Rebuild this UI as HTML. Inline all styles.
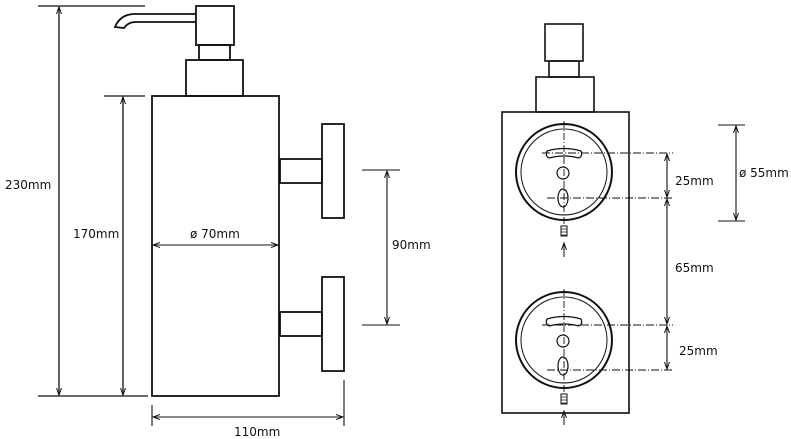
<!DOCTYPE html>
<html><head><meta charset="utf-8"><style>
html,body{margin:0;padding:0;background:#fff;width:791px;height:439px;overflow:hidden}
svg{display:block}
text{font-family:"DejaVu Sans","Liberation Sans",sans-serif;font-size:12px;fill:#111}
</style></head><body>
<svg width="791" height="439" viewBox="0 0 791 439" xmlns="http://www.w3.org/2000/svg">
<defs>
<marker id="a" markerWidth="8" markerHeight="8" refX="7" refY="4" orient="auto-start-reverse" markerUnits="userSpaceOnUse">
<path d="M0,1.5 L7,4 L0,6.5" fill="none" stroke="#111" stroke-width="1"/></marker>
</defs>
<g stroke="#111" fill="none">
<!-- left view -->
<g stroke-width="1.3">
<line x1="38" y1="6" x2="145" y2="6"/>
<line x1="38" y1="396" x2="148" y2="396"/>
<line x1="104" y1="96" x2="145" y2="96"/>
<line x1="59" y1="7" x2="59" y2="395" marker-start="url(#a)" marker-end="url(#a)"/>
<line x1="123" y1="97" x2="123" y2="395" marker-start="url(#a)" marker-end="url(#a)"/>
</g>
<g stroke-width="1.8">
<rect x="152" y="96" width="127" height="300"/>
<rect x="196" y="6" width="38" height="39"/>
<rect x="199" y="45" width="31" height="15"/>
<rect x="186" y="60" width="57" height="36"/>
<path d="M196,14 L133,14 Q120,15 115,27 L124,28 Q128,22 136,22 L196,22"/>
<rect x="280" y="159" width="42" height="24"/>
<rect x="322" y="124" width="22" height="94"/>
<rect x="280" y="312" width="42" height="24"/>
<rect x="322" y="277" width="22" height="94"/>
</g>
<g stroke-width="1.1">
<line x1="153" y1="245" x2="278" y2="245" marker-start="url(#a)" marker-end="url(#a)"/>
<line x1="362" y1="170" x2="400" y2="170"/>
<line x1="362" y1="325" x2="400" y2="325"/>
<line x1="387" y1="171" x2="387" y2="324" marker-start="url(#a)" marker-end="url(#a)"/>
<line x1="152" y1="405" x2="152" y2="426"/>
<line x1="344" y1="380" x2="344" y2="426"/>
<line x1="153" y1="417" x2="343" y2="417" marker-start="url(#a)" marker-end="url(#a)"/>
</g>
<!-- right view -->
<g stroke-width="1.6">
<rect x="545" y="24" width="38" height="37"/>
<rect x="549" y="61" width="30" height="16"/>
<rect x="536" y="77" width="58" height="35"/>
<rect x="502" y="112" width="127" height="301"/>
</g>
<g id="fix">
<circle cx="564" cy="172" r="48" stroke-width="2"/>
<circle cx="564" cy="172" r="43" stroke-width="1"/>
<path d="M547,151 Q564,146 581,151 Q583,156 579,158 Q564,154 549,158 Q545,156 547,151Z" stroke-width="1.2"/>
<circle cx="563" cy="173" r="6" stroke-width="1.2"/>
<ellipse cx="563" cy="198" rx="5" ry="9" stroke-width="1.2"/>
<line x1="564" y1="121" x2="564" y2="224" stroke-width="0.9" stroke-dasharray="7,2,1,2"/>
<rect x="561" y="226" width="6" height="10" stroke-width="1"/>
<path d="M561,229h6M561,232h6M561,235h6" stroke-width="0.8"/>
<line x1="564" y1="257" x2="564" y2="243" stroke-width="1" marker-end="url(#a)"/>
</g>
<use href="#fix" transform="translate(0,168)"/>
<g stroke-width="0.9" stroke-dasharray="8,2,1,2">
<line x1="542" y1="153" x2="673" y2="153"/>
<line x1="547" y1="198" x2="673" y2="198"/>
<line x1="542" y1="325" x2="673" y2="325"/>
<line x1="547" y1="370" x2="673" y2="370"/>
</g>
<g stroke-width="1.1">
<line x1="667" y1="154" x2="667" y2="197" marker-start="url(#a)" marker-end="url(#a)"/>
<line x1="667" y1="199" x2="667" y2="324" marker-start="url(#a)" marker-end="url(#a)"/>
<line x1="667" y1="326" x2="667" y2="369" marker-start="url(#a)" marker-end="url(#a)"/>
<line x1="718" y1="125" x2="745" y2="125"/>
<line x1="718" y1="221" x2="745" y2="221"/>
<line x1="736" y1="126" x2="736" y2="220" marker-start="url(#a)" marker-end="url(#a)"/>
</g>
</g>
<text x="5" y="189">230mm</text>
<text x="73" y="238">170mm</text>
<text x="190" y="238">ø 70mm</text>
<text x="392" y="249">90mm</text>
<text x="234" y="436">110mm</text>
<text x="675" y="185">25mm</text>
<text x="675" y="272">65mm</text>
<text x="679" y="355">25mm</text>
<text x="739" y="177">ø 55mm</text>
</svg>
</body></html>
